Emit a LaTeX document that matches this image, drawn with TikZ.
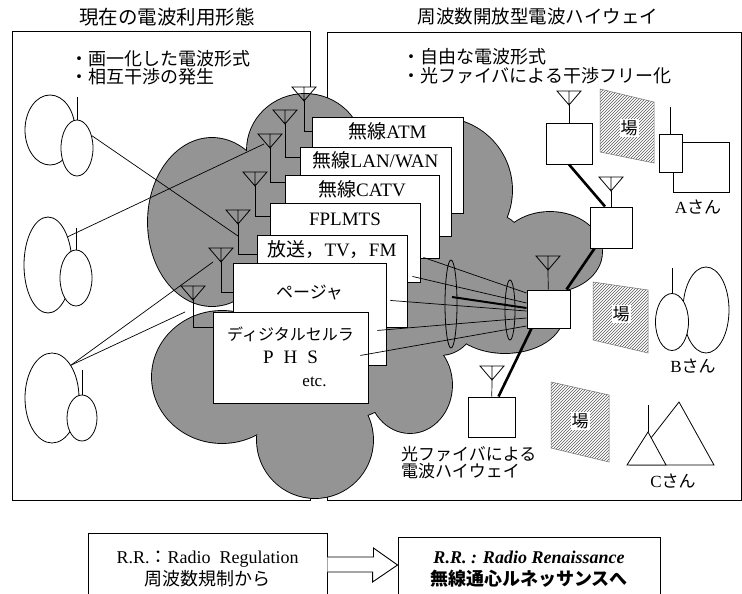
\documentclass[tikz,border=0pt]{standalone}
\usepackage{fontspec}
\setmainfont{Liberation Serif}
\newfontfamily\jp{Noto Sans CJK JP}
\usetikzlibrary{positioning,shapes.geometric,patterns}

% antenna symbol, origin at the middle of the triangle's top edge
\tikzset{antenna/.pic={\draw[line width=0.8pt] (-12,0) -- (12,0) -- (0,14) -- cycle (0,0) -- (0,14);}}

\begin{document}
\begin{tikzpicture}[x=1pt,y=-1pt,
    panel/.style={line width=1pt},
    card/.style={draw,fill=white,line width=0.9pt,inner sep=0pt},
    cardtext/.style={inner sep=0pt,font=\fontsize{19}{21}\selectfont},
    person/.style={draw,ellipse,line width=0.8pt,inner sep=0pt},
    station/.style={draw,fill=white,line width=1pt,inner sep=0pt},
    wave/.style={line width=0.7pt},
    fiber/.style={line width=2.6pt},
    field/.style={pattern=north east lines,pattern color=black!65,draw=black!55,line width=0.5pt},
    jtext/.style={inner sep=0pt,font=\jp\fontsize{17}{17}\selectfont}]
  \useasboundingbox (0,0) rectangle (742,594);
  \clip (0,0) rectangle (742,594);

  % headings and the two panels
  \node[jtext,font=\jp\fontsize{19.5}{20}\selectfont] (ltitle) at (167,17) {現在の電波利用形態};
  \node[jtext,font=\jp\fontsize{18.5}{20}\selectfont] (rtitle) at (538,17) {周波数開放型電波ハイウェイ};
  \draw[panel] (310,87) -- (310,32) -- (12,32) -- (12,500) -- (310,500) -- (310,470);
  \draw[panel] (327,98) -- (327,33) -- (741,33) -- (741,500) -- (327,500) -- (327,470);
  \node[jtext,anchor=west,align=left,font=\jp\fontsize{18}{17.5}\selectfont] (lnote) at (70,67.5) {・画一化した電波形式\\・相互干渉の発生};
  \node[jtext,anchor=west,align=left,font=\jp\fontsize{18}{19}\selectfont] (rnote) at (402,66.5) {・自由な電波形式\\・光ファイバによる干渉フリー化};

  % users on the left
  \node[person,minimum width=50pt,minimum height=70pt] (p1b) at (50,130) {};
  \node[person,fill=white,minimum width=32pt,minimum height=56pt] (p1s) at (77,148) {};
  \draw[wave] (p1s.north) -- ++(0,-23);
  \node[person,minimum width=48pt,minimum height=96pt] (p2b) at (48,265) {};
  \node[person,fill=white,minimum width=32pt,minimum height=56pt] (p2s) at (76,278) {};
  \draw[wave] (p2s.north) -- ++(0,-22);
  \node[person,minimum width=54pt,minimum height=90pt] (p3b) at (52,398) {};
  \node[person,fill=white,minimum width=30pt,minimum height=46pt] (p3s) at (82,418) {};
  \draw[wave] (p3s.north) -- ++(0,-25);

  % the cloud: outline first, then the fill hides the inner arcs
  \def\cloudlobes{305/150/58/56, 440/190/72/72, 550/252/52/40, 505/315/58/38, 480/270/55/60, 440/320/35/35,
    410/385/42/48, 315/440/58/58, 222/377/70/66, 212/222/64/84, 340/290/100/130}
  \foreach \cx/\cy/\rx/\ry in \cloudlobes
    \draw[line width=1.8pt] (\cx,\cy) ellipse [x radius=\rx, y radius=\ry];
  \foreach \cx/\cy/\rx/\ry in \cloudlobes
    \fill[black!42] (\cx,\cy) ellipse [x radius=\rx, y radius=\ry];

  % stacked services
  \node[card,minimum width=151pt,minimum height=96pt] (atm) at (387.5,165) {};
  \node[cardtext] (atmt) at ([yshift=-15pt]atm.north) {{\jp 無線}ATM};
  \node[card,minimum width=151pt,minimum height=89pt] (lan) at (375.5,191.5) {};
  \node[cardtext] (lant) at ([yshift=-14pt]lan.north) {{\jp 無線}LAN/WAN};
  \node[card,minimum width=154pt,minimum height=83pt] (catv) at (362,216.5) {};
  \node[cardtext] (catvt) at ([yshift=-15pt]catv.north) {{\jp 無線}CATV};
  \node[card,minimum width=150pt,minimum height=79pt] (fpl) at (345,242.5) {};
  \node[cardtext] (fplt) at ([yshift=-17pt]fpl.north) {FPLMTS};
  \node[card,minimum width=150pt,minimum height=92pt] (hoso) at (332,281) {};
  \node[cardtext] (hosot) at ([yshift=-15pt]hoso.north) {{\jp 放送，}TV{\jp ，}FM};
  \node[card,minimum width=153pt,minimum height=102pt] (pager) at (309.5,314) {};
  \node[cardtext,font=\jp\fontsize{17}{17}\selectfont] (pagert) at ([yshift=-30pt]pager.north) {ページャ};
  \node[card,minimum width=155pt,minimum height=91pt] (cell) at (290.5,357.5) {};
  \node[cardtext,font=\jp\fontsize{16}{16}\selectfont] (cellt) at ([yshift=-23pt]cell.north) {ディジタルセルラ};
  \node[cardtext] (phs) at ([yshift=-46pt]cell.north) {P\hspace{10pt}H\hspace{10pt}S};
  \node[cardtext,font=\fontsize{17}{17}\selectfont] (etc) at ([shift={(24,70)}]cell.north) {etc.};

  % one antenna per service
  \pic at (304,87) {antenna};  \coordinate (a1) at (304,101);
  \pic at (285,110) {antenna}; \coordinate (a2) at (285,124);
  \pic at (270,134) {antenna}; \coordinate (a3) at (270,148);
  \pic at (255,172) {antenna}; \coordinate (a4) at (255,186);
  \pic at (238,210) {antenna}; \coordinate (a5) at (238,224);
  \pic at (221,248) {antenna}; \coordinate (a6) at (221,262);
  \pic at (193,286) {antenna}; \coordinate (a7) at (193,300);
  \draw[wave] (a1) |- ([yshift=-15pt]atm.north west);
  \draw[wave] (a2) |- ([yshift=-11pt]lan.north west);
  \draw[wave] (a3) |- ([yshift=-8pt]catv.north west);
  \draw[wave] (a4) |- ([yshift=-14pt]fpl.north west);
  \draw[wave] (a5) |- ([yshift=-20pt]hoso.north west);
  \draw[wave] (a6) |- ([yshift=-30pt]pager.north west);
  \draw[wave] (a7) |- ([yshift=-16pt]cell.north west);

  % interference paths
  \draw[wave] (p1s.40) -- ([yshift=-12pt]a5);
  \draw[wave] (p2b.55) -- ([shift={(-6,-4)}]a3);
  \draw[wave] (p3b.60) -- ([xshift=-8pt]a6);
  \draw[wave] (p3b.60) -- ([shift={(-8,12)}]a7);

  % radio highway on the right
  \node[station,minimum width=46pt,minimum height=41pt] (sb1) at (569,143.5) {};
  \node[station,minimum width=42pt,minimum height=41pt] (sb2) at (611,227.5) {};
  \node[station,minimum width=43pt,minimum height=38pt] (cb) at (548.5,309) {};
  \node[station,minimum width=47pt,minimum height=40pt] (sb3) at (491.5,417) {};
  \pic at (569,91) {antenna};  \coordinate (r1) at (569,105);
  \pic at (611,177) {antenna}; \coordinate (r2) at (611,191);
  \pic at (548,256) {antenna}; \coordinate (r3) at (548,270);
  \pic at (492,366) {antenna}; \coordinate (r4) at (492,380);
  \draw[wave] (r1) -- (sb1);
  \draw[wave] (r2) -- (sb2);
  \draw[wave] (r3) -- (cb);
  \draw[wave] (r4) -- (sb3);
  \draw[fiber] (sb1.south) -- ([xshift=-6pt]sb2.north);
  \draw[fiber] ([xshift=5pt]sb2.south west) -- ([xshift=-4pt]cb.north east);
  \draw[fiber] ([xshift=5pt]cb.south west) -- ([xshift=7pt]sb3.north);

  \draw[wave] ([shift={(-16,-1)}]catv.south east) -- ([shift={(0,-16)}]cb.west);
  \draw[wave] ([shift={(-8,-6)}]fpl.south east) -- ([shift={(0,-6)}]cb.west);
  \draw[wave] ([shift={(-17,-27)}]hoso.south east) -- ([shift={(0,2)}]cb.west);
  \draw[wave] ([shift={(-9,-35)}]pager.south east) -- ([shift={(0,9)}]cb.west);
  \draw[wave] ([shift={(-8,-48)}]cell.south east) -- ([shift={(0,17)}]cb.west);
  \node[person,minimum width=12pt,minimum height=88pt] (e1) at (451,304) {};
  \node[person,minimum width=10pt,minimum height=60pt] (e2) at (510,310) {};
  \draw[fiber,line width=2pt] ([shift={(1,-7)}]e1.center) -- ([shift={(0,-1)}]cb.west);
  \node[jtext,anchor=west,align=left] (hwy) at (401,463) {光ファイバによる\\電波ハイウェイ};

  % fields
  \draw[field] (600,89) -- (654,102) -- (654,163) -- (600,152) -- cycle;
  \node[jtext,fill=white,inner sep=1pt] (f1) at (629,128) {場};
  \draw[field] (593,282) -- (648,290) -- (648,353) -- (593,340) -- cycle;
  \node[jtext,fill=white,inner sep=1pt] (f2) at (621,314) {場};
  \draw[field] (551,382) -- (609,395) -- (609,462) -- (551,448) -- cycle;
  \node[jtext,fill=white,inner sep=1pt] (f3) at (580,421) {場};

  % users on the right
  \node[station,line width=0.8pt,minimum width=56pt,minimum height=50pt] (abody) at (701,167) {};
  \node[station,line width=0.8pt,minimum width=23pt,minimum height=38pt] (aset) at (670.5,153) {};
  \draw[wave] (aset.north) -- ++(0,-27);
  \node[jtext] (aname) at (698,207) {{\rmfamily A}さん};
  \node[person,minimum width=46pt,minimum height=86pt] (bbody) at (706,310) {};
  \node[person,fill=white,minimum width=33pt,minimum height=57pt] (bset) at (672,322) {};
  \draw[wave] (bset.north) -- ++(0,-25);
  \node[jtext] (bname) at (693,366) {{\rmfamily B}さん};
  \draw[wave,line width=0.8pt] (679,402) -- (714,465) -- (630,465) -- cycle;
  \draw[wave,line width=0.8pt,fill=white] (648,432) -- (666,465) -- (627,465) -- cycle;
  \draw[wave] (648,432) -- ++(0,-27);
  \node[jtext] (cname) at (673,481) {{\rmfamily C}さん};

  % from regulation to renaissance
  \node[card,minimum width=239pt,minimum height=72pt,align=center,font=\fontsize{18}{22}\selectfont] (rreg) at (207.5,569)
    {R.R.{\jp ：}Radio\ \ Regulation\\{\jp 周波数規制から}};
  \node[card,minimum width=262pt,minimum height=64pt,align=center,font=\fontsize{18}{22}\selectfont] (rren) at (529,569)
    {\textbf{\textit{R.R. : Radio Renaissance}}\\{\jp\bfseries 無線通心ルネッサンスへ}};
  \draw[line width=0.9pt,fill=white] ([yshift=12pt]rreg.east) -- ++(46,0) -- ++(0,-9) -- ([yshift=4pt]rren.west)
    -- ++(-25,17) -- ++(0,-10) -- ([yshift=-3pt]rreg.east);
\end{tikzpicture}
\end{document}
